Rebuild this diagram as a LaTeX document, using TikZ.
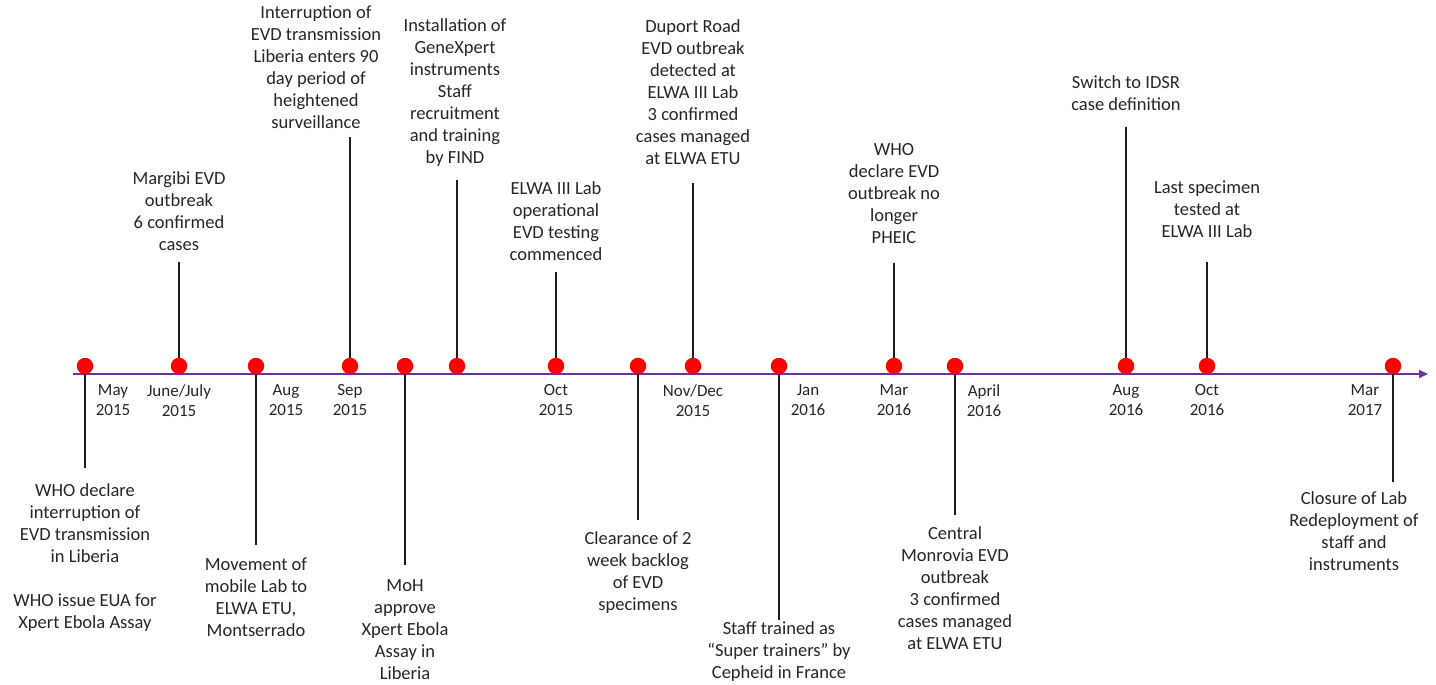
\documentclass[tikz,border=0pt]{standalone}
\usepackage{fontspec}
\setmainfont{Carlito}
\usetikzlibrary{arrows.meta}
\definecolor{axiscol}{RGB}{112,48,160}
\definecolor{dotred}{RGB}{255,0,0}
\definecolor{stem}{RGB}{30,30,30}
\tikzset{
  evdot/.style={circle,fill=dotred,draw=none,minimum size=16.5pt,inner sep=0pt},
  evtext/.style={align=center,inner sep=0pt,anchor=north,font=\fontsize{18.5}{22}\selectfont,text=black!85},
  monthlbl/.style={align=center,inner sep=0pt,anchor=north,font=\fontsize{17}{20}\selectfont,text=black!85},
  stemline/.style={draw=stem,line width=1.6pt},
  axisline/.style={draw=axiscol,line width=1.8pt,-{Triangle[length=9pt,width=8pt]}}
}
\begin{document}
\begin{tikzpicture}[x=1pt,y=-1pt]
\useasboundingbox (0,0) rectangle (1436,685);
% axis
\coordinate (axL) at (73,374);
\coordinate (axR) at (1428,374);
\draw[axisline] (axL) -- (axR);

% stem end coordinates
\coordinate (ea) at (85,468);
\coordinate (eb) at (179,262);
\coordinate (ec) at (256,545);
\coordinate (ed) at (350,137);
\coordinate (ee) at (405,565);
\coordinate (ef) at (457,180);
\coordinate (eg) at (556,272);
\coordinate (eh) at (638,520);
\coordinate (ei) at (693,183);
\coordinate (ej) at (779,620);
\coordinate (ek) at (894,263);
\coordinate (el) at (955,515);
\coordinate (em) at (1126,127);
\coordinate (en) at (1207,262);
\coordinate (eo) at (1393,482);

% dot anchors (for stems)
\foreach \n/\x in {a/85,b/179,c/256,d/350,e/405,f/457,g/556,h/638,i/693,j/779,k/894,l/955,m/1126,n/1207,o/1393}{
  \coordinate (\n) at (\x,366);
}
\foreach \n in {a,b,c,d,e,f,g,h,i,j,k,l,m,n,o}{
  \draw[stemline] (\n) -- (e\n);
}
% dots on top
\foreach \n/\x in {a/85,b/179,c/256,d/350,e/405,f/457,g/556,h/638,i/693,j/779,k/894,l/955,m/1126,n/1207,o/1393}{
  \node[evdot] (dot\n) at (\n) {};
}

% top labels
\node[evtext] (tb) at (179,171) {Margibi EVD\\outbreak\\6 confirmed\\cases};
\node[evtext] (td) at (316,6) {Interruption of\\EVD transmission\\Liberia enters 90\\day period of\\heightened\\surveillance};
\node[evtext] (tf) at (455,18) {Installation of\\GeneXpert\\instruments\\Staff\\recruitment\\and training\\by FIND};
\node[evtext] (tg) at (556,181) {ELWA III Lab\\operational\\EVD testing\\commenced};
\node[evtext] (ti) at (693,19) {Duport Road\\EVD outbreak\\detected at\\ELWA III Lab\\3 confirmed\\cases managed\\at ELWA ETU};
\node[evtext] (tk) at (894,143) {WHO\\declare EVD\\outbreak no\\longer\\PHEIC};
\node[evtext] (tm) at (1126,75) {Switch to IDSR\\case definition};
\node[evtext] (tn) at (1207,181) {Last specimen\\tested at\\ELWA III Lab};

% bottom labels
\node[evtext] (ba) at (85,483) {WHO declare\\interruption of\\EVD transmission\\in Liberia\\[22pt]WHO issue EUA for\\Xpert Ebola Assay};
\node[evtext] (bc) at (256,558) {Movement of\\mobile Lab to\\ELWA ETU,\\Montserrado};
\node[evtext] (be) at (405,579) {MoH\\approve\\Xpert Ebola\\Assay in\\Liberia};
\node[evtext] (bh) at (638,531) {Clearance of 2\\week backlog\\of EVD\\specimens};
\node[evtext] (bj) at (779,621) {Staff trained as\\“Super trainers” by\\Cepheid in France};
\node[evtext] (bl) at (955,526) {Central\\Monrovia EVD\\outbreak\\3 confirmed\\cases managed\\at ELWA ETU};
\node[evtext] (bo) at (1354,491) {Closure of Lab\\Redeployment of\\staff and\\instruments};

% month labels
\node[monthlbl] (m1) at (113,384) {May\\2015};
\node[monthlbl] (m2) at (179,384) {June/July\\2015};
\node[monthlbl] (m3) at (286,384) {Aug\\2015};
\node[monthlbl] (m4) at (350,384) {Sep\\2015};
\node[monthlbl] (m5) at (556,384) {Oct\\2015};
\node[monthlbl] (m6) at (693,384) {Nov/Dec\\2015};
\node[monthlbl] (m7) at (808,384) {Jan\\2016};
\node[monthlbl] (m8) at (894,384) {Mar\\2016};
\node[monthlbl] (m9) at (984,384) {April\\2016};
\node[monthlbl] (m10) at (1126,384) {Aug\\2016};
\node[monthlbl] (m11) at (1207,384) {Oct\\2016};
\node[monthlbl] (m12) at (1365,384) {Mar\\2017};
\end{tikzpicture}
\end{document}
